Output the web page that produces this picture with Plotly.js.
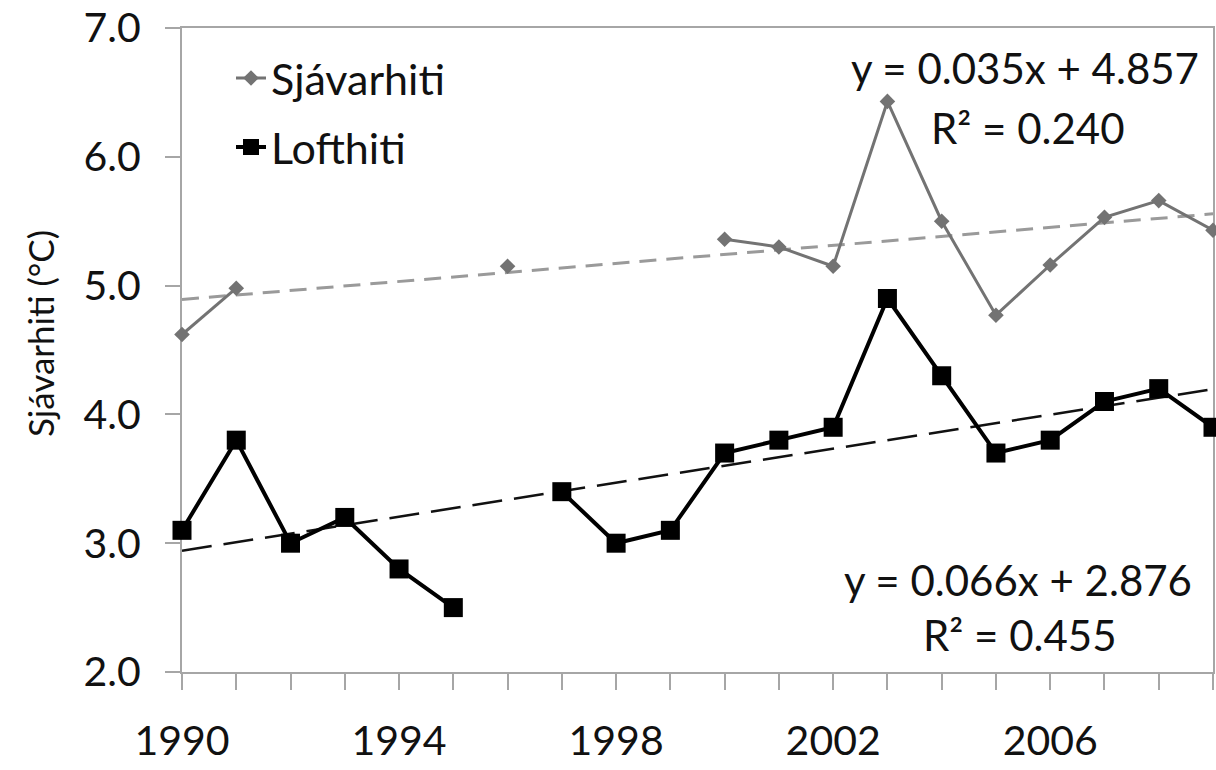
<!DOCTYPE html>
<html>
<head>
<meta charset="utf-8">
<script src="https://cdn.plot.ly/plotly-3.0.1.min.js"></script>
<style>html,body{margin:0;padding:0;background:#fff;}#chart{width:1216px;height:770px;}</style>
</head>
<body>
<div id="chart"></div>
<script>
// ---- data ----
const years = [1990,1991,1992,1993,1994,1995,1996,1997,1998,1999,2000,2001,2002,2003,2004,2005,2006,2007,2008,2009];
const sjavarhiti = [4.62,4.98,null,null,null,null,5.15,null,null,null,5.36,5.30,5.15,6.43,5.50,4.77,5.16,5.53,5.66,5.43];
const lofthiti   = [3.1,3.8,3.0,3.2,2.8,2.5,null,3.4,3.0,3.1,3.7,3.8,3.9,4.9,4.3,3.7,3.8,4.1,4.2,3.9];
// trend equations as printed on the chart (x = 1..n)
const sjaSlope = 0.035, sjaIntercept = 4.857;
const lofSlope = 0.066, lofIntercept = 2.876;
const xTickVals = [1990,1994,1998,2002,2006];
const xTickLabels = ['1990','1994','1998','2002','2006'];
const seriesNames = ['Sjávarhiti','Lofthiti'];
const yTitle = 'Sjávarhiti (°C)';
const eqTexts = ['y = 0.035x + 4.857','R² = 0.240','y = 0.066x + 2.876','R² = 0.455'];

// trend lines from the printed equations
const idx = years.map((y,i)=>i+1);
const sjaTrend = idx.map(k=>sjaIntercept + sjaSlope*k);
const lofTrend = idx.map(k=>lofIntercept + lofSlope*k);

const FONT = 'Lato, "Open Sans", "DejaVu Sans", sans-serif';
const TXT = '#111';
const AX = '#a6a6a6';

const traces = [
  {x: years, y: sjaTrend, mode:'lines', line:{color:'#9a9a9a', width:3, dash:'17px,10px'}, showlegend:false, hoverinfo:'skip', cliponaxis:false},
  {x: years, y: lofTrend, mode:'lines', line:{color:'#111', width:2.5, dash:'30px,12px'}, showlegend:false, hoverinfo:'skip', cliponaxis:false},
  {x: years, y: sjavarhiti, name: seriesNames[0], mode:'lines+markers', connectgaps:false,
   line:{color:'#737373', width:3}, marker:{symbol:'diamond', size:12, color:'#737373'}, legend:'legend', cliponaxis:false},
  {x: years, y: lofthiti, name: seriesNames[1], mode:'lines+markers', connectgaps:false,
   line:{color:'#000', width:4}, marker:{symbol:'square', size:19, color:'#000'}, legend:'legend2', cliponaxis:false}
];

const L = 182, R = 1213, T = 28, B = 672;
const px = v => (v - L)/(R - L);
const py = v => (B - v)/(B - T);

const ann = (text, x, y) => ({text, xref:'paper', yref:'paper', x:px(x), y:py(y), xanchor:'center', yanchor:'middle', showarrow:false, font:{family:FONT, size:42, color:TXT}});

const layout = {
  width:1216, height:770,
  margin:{l:L, r:1216-R, t:T, b:770-B, pad:0},
  paper_bgcolor:'#fff', plot_bgcolor:'#fff',
  font:{family:FONT, color:TXT},
  xaxis:{range:[1990,2009], tickmode:'array', tickvals:xTickVals, ticktext:xTickLabels,
    ticks:'outside', ticklen:16, tickwidth:2, tickcolor:AX,
    minor:{dtick:1, tick0:1990, ticks:'outside', ticklen:16, tickwidth:2, tickcolor:AX, showgrid:false},
    showline:true, linecolor:AX, linewidth:2, mirror:true, showgrid:false, zeroline:false,
    tickfont:{family:FONT, size:41, color:TXT}, ticklabelstandoff:16, layer:'below traces'},
  yaxis:{range:[2,7], dtick:1, tick0:2, tickformat:'.1f',
    ticks:'outside', ticklen:15, tickwidth:2, tickcolor:AX,
    showline:true, linecolor:AX, linewidth:2, mirror:true, showgrid:false, zeroline:false,
    tickfont:{family:FONT, size:41, color:TXT}, ticklabelstandoff:16, layer:'below traces'},
  legend:{x:px(231), y:py(78), xanchor:'left', yanchor:'middle', bgcolor:'rgba(0,0,0,0)',
    font:{family:FONT, size:43, color:TXT}},
  legend2:{x:px(231), y:py(147), xanchor:'left', yanchor:'middle', bgcolor:'rgba(0,0,0,0)',
    font:{family:FONT, size:43, color:TXT}},
  annotations:[
    ann(eqTexts[0], 1025, 68), ann(eqTexts[1], 1028, 128),
    ann(eqTexts[2], 1018, 580), ann(eqTexts[3], 1020, 635),
    {text:yTitle, xref:'paper', yref:'paper', x:px(40), y:py(334), xanchor:'center', yanchor:'middle', textangle:-90, showarrow:false, font:{family:FONT, size:35, color:TXT}}
  ]
};

Plotly.newPlot('chart', traces, layout, {displayModeBar:false, staticPlot:true});
</script>
</body>
</html>
